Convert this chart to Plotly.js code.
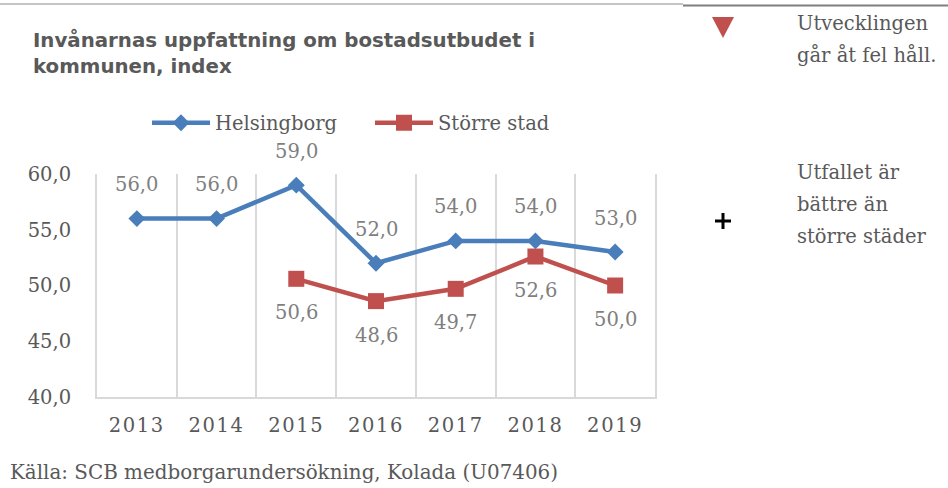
<!DOCTYPE html>
<html>
<head>
<meta charset="utf-8">
<script src="https://cdn.plot.ly/plotly-3.0.1.min.js"></script>
<style>
  html, body { margin: 0; padding: 0; background: #fff; }
  #chart { width: 948px; height: 488px; }
  .xtick text { letter-spacing: 1.6px; }
</style>
</head>
<body>
<div id="chart"></div>
<script>
// ---- data ----
const years = ['2013', '2014', '2015', '2016', '2017', '2018', '2019'];
const helsingborg = [56.0, 56.0, 59.0, 52.0, 54.0, 54.0, 53.0];
const storreStad = [null, null, 50.6, 48.6, 49.7, 52.6, 50.0];
const yTicks = [40, 45, 50, 55, 60];
const seriesNames = ['Helsingborg', 'Större stad'];
const titleText = 'Invånarnas uppfattning om bostadsutbudet i<br>kommunen, index';
const sourceText = 'Källa: SCB medborgarundersökning, Kolada (U07406)';
const noteDown = ['Utvecklingen', 'går åt fel håll.'];
const notePlus = ['Utfallet är', 'bättre än', 'större städer'];

// ---- layout geometry (pixels) ----
const WIDTH = 948, HEIGHT = 488;
const L = 97, R = 655, T = 174, B = 397;
const PW = R - L, PH = B - T;
const px = v => (v - L) / PW;          // pixel x -> paper x
const py = v => (B - v) / PH;          // pixel y -> paper y

const serif = 'DejaVu Serif';
const grey = '#595959';
const labelGrey = '#7f7f7f';
const blue = '#4a7ebb';
const red = '#c0504d';

const fmt = v => v.toFixed(1).replace('.', ',');

const traces = [
  {
    x: years, y: helsingborg, name: seriesNames[0], type: 'scatter', mode: 'lines+markers',
    line: { color: blue, width: 4.5 },
    marker: { symbol: 'diamond', size: 13, color: blue },
    hoverinfo: 'skip'
  },
  {
    x: years, y: storreStad, name: seriesNames[1], type: 'scatter', mode: 'lines+markers',
    line: { color: red, width: 4.5 },
    marker: { symbol: 'square', size: 16, color: red },
    hoverinfo: 'skip'
  }
];

const annotations = [];
years.forEach((yr, i) => {
  if (helsingborg[i] != null) {
    annotations.push({ x: i, y: helsingborg[i], xref: 'x', yref: 'y', text: fmt(helsingborg[i]),
      showarrow: false, yshift: 34, font: { family: serif, size: 19.5, color: labelGrey } });
  }
  if (storreStad[i] != null) {
    annotations.push({ x: i, y: storreStad[i], xref: 'x', yref: 'y', text: fmt(storreStad[i]),
      showarrow: false, yshift: -34, font: { family: serif, size: 19.5, color: labelGrey } });
  }
});

// side notes
const noteFont = { family: serif, size: 19.5, color: grey };
[[noteDown[0], 23], [noteDown[1], 55], [notePlus[0], 172], [notePlus[1], 204], [notePlus[2], 236]].forEach(([t, y]) => {
  annotations.push({ x: px(795), y: py(y), xref: 'paper', yref: 'paper', text: t, showarrow: false,
    xanchor: 'left', yanchor: 'middle', font: noteFont });
});
// source
annotations.push({ x: px(8), y: py(472), xref: 'paper', yref: 'paper', text: sourceText, showarrow: false,
  xanchor: 'left', yanchor: 'middle', font: { family: serif, size: 19.9, color: grey } });

const shapes = [
  // top rules
  { type: 'line', xref: 'paper', yref: 'paper', x0: px(0), x1: px(683), y0: py(4), y1: py(4),
    line: { color: '#8c8c8c', width: 1.2 } },
  { type: 'line', xref: 'paper', yref: 'paper', x0: px(683), x1: px(948), y0: py(5.5), y1: py(5.5),
    line: { color: '#7f7f7f', width: 2.2 } },
  // down triangle icon
  { type: 'path', xref: 'paper', yref: 'paper',
    path: `M ${px(712)} ${py(17)} L ${px(734)} ${py(17)} L ${px(723)} ${py(38)} Z`,
    fillcolor: red, line: { width: 0 } },
  // plus icon
  { type: 'line', xref: 'paper', yref: 'paper', x0: px(715), x1: px(731), y0: py(221), y1: py(221),
    line: { color: '#000', width: 3 } },
  { type: 'line', xref: 'paper', yref: 'paper', x0: px(723), x1: px(723), y0: py(213), y1: py(229),
    line: { color: '#000', width: 3 } }
];

const layout = {
  width: WIDTH, height: HEIGHT,
  margin: { l: L, r: WIDTH - R, t: T, b: HEIGHT - B, pad: 0 },
  paper_bgcolor: '#fff', plot_bgcolor: '#fff',
  separators: ', ',
  showlegend: true,
  title: {
    text: titleText, xref: 'container', yref: 'container',
    x: 33 / WIDTH, xanchor: 'left', y: 1 - 47 / HEIGHT, yanchor: 'top',
    font: { family: 'DejaVu Sans', size: 19.8, weight: 'bold', color: grey }
  },
  legend: {
    orientation: 'h', x: px(147), y: py(123), xanchor: 'left', yanchor: 'middle',
    bgcolor: 'rgba(0,0,0,0)', font: { family: serif, size: 19.5, color: grey },
    entrywidth: 150, entrywidthmode: 'pixels', itemwidth: 58, traceorder: 'normal'
  },
  xaxis: {
    type: 'category', range: [-0.5, 6.5], fixedrange: true,
    tickson: 'boundaries', showgrid: true, gridcolor: '#d9d9d9', gridwidth: 2,
    showline: true, linecolor: '#d9d9d9', linewidth: 2,
    ticks: '', ticklabelstandoff: 10,
    tickfont: { family: serif, size: 19.5, color: grey },
    zeroline: false
  },
  yaxis: {
    range: [40, 60], fixedrange: true, tickvals: yTicks, tickformat: '.1f',
    showgrid: false, zeroline: false,
    showline: true, mirror: true, linecolor: '#d9d9d9', linewidth: 2,
    ticks: 'outside', ticklen: 20, tickcolor: 'rgba(0,0,0,0)',
    tickfont: { family: serif, size: 19.5, color: grey }
  },
  annotations: annotations,
  shapes: shapes
};

Plotly.newPlot('chart', traces, layout, { staticPlot: true, displayModeBar: false });
</script>
</body>
</html>
